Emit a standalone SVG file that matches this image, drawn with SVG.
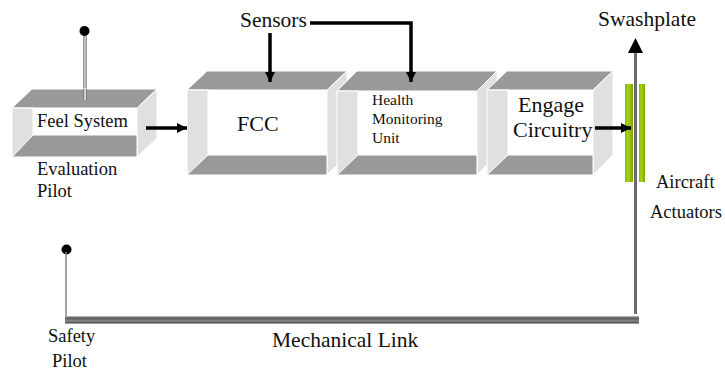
<svg xmlns="http://www.w3.org/2000/svg" width="725" height="370" viewBox="0 0 725 370">
<defs>
<style>
text{font-family:'Liberation Serif','DejaVu Serif',serif;fill:#111}
.dk{fill:#999999;stroke:#fff;stroke-width:1}
.lt{fill:#e0e0e0;stroke:#fff;stroke-width:1}
.wh{fill:#ffffff}
.arr{stroke:#000;stroke-width:3.5;fill:none}
</style>
<marker id="ah" viewBox="0 0 10 10" refX="10" refY="5" markerWidth="10" markerHeight="11" markerUnits="userSpaceOnUse" orient="auto">
<path d="M0,0 L10,5 L0,10 Z" fill="#000"/>
</marker>
<linearGradient id="gr" x1="0" y1="0" x2="1" y2="0">
<stop offset="0" stop-color="#8ab800"/>
<stop offset="0.4" stop-color="#a6d11a"/>
<stop offset="1" stop-color="#7aa600"/>
</linearGradient>
<linearGradient id="ml" x1="0" y1="0" x2="0" y2="1">
<stop offset="0" stop-color="#c8c8c8"/>
<stop offset="0.25" stop-color="#555"/>
<stop offset="0.6" stop-color="#888"/>
<stop offset="0.85" stop-color="#555"/>
<stop offset="1" stop-color="#d0d0d0"/>
</linearGradient>
</defs>
<rect width="725" height="370" fill="#fff"/>

<g id="eval-pilot">
<line x1="85" y1="31" x2="85" y2="100" stroke="#777" stroke-width="3.5"/>
<line x1="85" y1="31" x2="85" y2="100" stroke="#d8d8d8" stroke-width="1.5"/>
<circle cx="84.5" cy="31" r="5" fill="#000"/>
</g>

<g id="feel-system">
<polygon class="dk" points="12,108 32,89 157,89 137,108"/>
<polygon class="lt" points="137,108 157,89 157,138 137,157"/>
<rect class="lt" x="12" y="108" width="21" height="49"/>
<rect class="wh" x="33" y="108" width="104" height="27"/>
<polygon class="dk" points="12,157 33,135 137,135 137,157"/>
<line x1="85" y1="89" x2="85" y2="100" stroke="#777" stroke-width="3.5"/>
<line x1="85" y1="89" x2="85" y2="100" stroke="#eee" stroke-width="1.5"/>
<text x="37" y="127" font-size="18.5">Feel System</text>
<text x="37" y="175" font-size="18.5">Evaluation</text>
<text x="37" y="197" font-size="18.5">Pilot</text>
</g>

<g id="fcc">
<polygon class="dk" points="187,90 207,71 347,71 327,90"/>
<polygon class="lt" points="327,90 347,71 347,155 327,175"/>
<rect class="lt" x="187" y="90" width="21" height="85"/>
<rect class="wh" x="208" y="90" width="119" height="65"/>
<polygon class="dk" points="187,175 208,155 327,155 327,175"/>
<text x="237" y="131" font-size="22">FCC</text>
</g>

<g id="hmu">
<polygon class="dk" points="337,91 357,71 497,71 477,91"/>
<polygon class="lt" points="477,91 497,71 497,155 477,175"/>
<rect class="lt" x="337" y="91" width="21" height="84"/>
<rect class="wh" x="358" y="91" width="119" height="64"/>
<polygon class="dk" points="337,175 358,155 477,155 477,175"/>
<text font-size="15.5"><tspan x="372" y="105">Health</tspan><tspan x="372" y="124">Monitoring</tspan><tspan x="372" y="143">Unit</tspan></text>
</g>

<g id="engage">
<polygon class="dk" points="487,90 507,71 613,71 593,90"/>
<polygon class="lt" points="593,90 613,71 613,155 593,175"/>
<rect class="lt" x="487" y="90" width="21" height="85"/>
<rect class="wh" x="508" y="90" width="85" height="65"/>
<polygon class="dk" points="487,175 508,155 593,155 593,175"/>
<text font-size="22"><tspan x="518" y="112">Engage</tspan><tspan x="513" y="137">Circuitry</tspan></text>
</g>

<g id="actuators">
<rect x="625" y="84" width="8" height="98" fill="url(#gr)"/>
<rect x="639" y="84" width="6" height="98" fill="url(#gr)"/>
<text x="656" y="188" font-size="18.5">Aircraft</text>
<text x="650" y="218" font-size="18.5">Actuators</text>
</g>

<g id="swashplate">
<text x="598" y="26" font-size="21.5">Swashplate</text>
</g>

<g id="sensors">
<text x="240" y="27" font-size="21.5">Sensors</text>
</g>

<g id="safety-pilot">
<circle cx="66.5" cy="249.5" r="5" fill="#000"/>
<line x1="66" y1="252" x2="66" y2="318" stroke="#888" stroke-width="1.5"/>
<text x="48" y="342" font-size="18.5">Safety</text>
<text x="52" y="367" font-size="18.5">Pilot</text>
</g>

<g id="mechanical-link">
<rect x="65" y="316" width="574" height="8" fill="url(#ml)"/>
<text x="272" y="347" font-size="21.5">Mechanical Link</text>
</g>

<g id="connectors">
<line class="arr" x1="146" y1="128" x2="187" y2="128" marker-end="url(#ah)"/>
<line class="arr" x1="270" y1="33" x2="270" y2="82" marker-end="url(#ah)"/>
<polyline class="arr" points="310,23 411,23 411,82" marker-end="url(#ah)"/>
<line class="arr" x1="595" y1="128" x2="631" y2="128" marker-end="url(#ah)"/>
<line x1="635.5" y1="52" x2="635.5" y2="314" stroke="#6a6a6a" stroke-width="3"/>
<polygon points="635.5,38 628,53 643,53" fill="#000"/>
</g>
</svg>
